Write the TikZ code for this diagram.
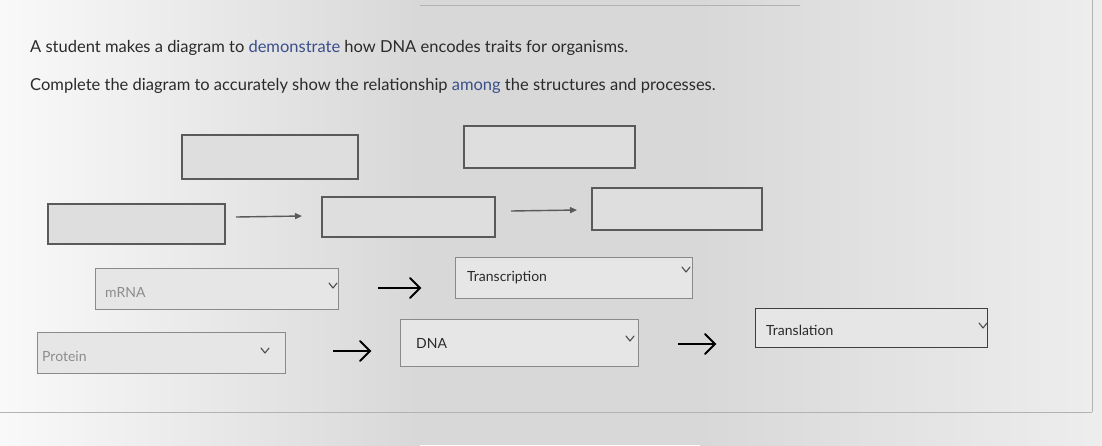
\documentclass[tikz,border=0pt]{standalone}
\usepackage{fontspec}
\setmainfont{Lato}
\usetikzlibrary{arrows.meta}
\definecolor{bg}{HTML}{D8D8D8}
\definecolor{qblue}{HTML}{3A4F8A}
\definecolor{qtext}{HTML}{2A2A2A}
\definecolor{boxline}{HTML}{5A5A5A}
\definecolor{ddline}{HTML}{8A8A8A}
\tikzset{
  blank/.style={draw=boxline, line width=1.6pt, fill=bg!85!white, inner sep=0pt, anchor=north west},
  dd/.style={draw=ddline, line width=0.9pt, fill=bg!65!white, inner sep=0pt, anchor=north west},
  ddtext/.style={anchor=west, font=\fontsize{14}{16}\selectfont, text=qtext, inner sep=0pt},
  thinarr/.style={draw=boxline, line width=1.4pt, -{Triangle[length=7pt,width=6pt]}},
  bigshaft/.style={draw=black, line width=2pt},
  bighead/.style={draw=black, line width=2pt, line cap=round, line join=miter},
  chev/.style={draw=black!70, line width=1.1pt, line cap=round, line join=round},
  qline/.style={anchor=west, font=\fontsize{16.5}{19}\selectfont, text=qtext, inner sep=0pt}
}
\begin{document}
\begin{tikzpicture}[x=1pt,y=-1pt]
\useasboundingbox (0,0) rectangle (1102,445);
\fill[bg] (0,0) rectangle (1102,445);
\shade[left color=white!85!bg, right color=bg] (0,0) rectangle (420,445);
\shade[left color=bg, right color=white!55!bg] (700,0) rectangle (1102,445);
\draw[black!30, line width=1pt] (0,412) -- (1092,412);
\draw[black!30, line width=1pt] (1092,0) -- (1092,412);
\draw[black!30, line width=1pt] (420,5) -- (800,5);
% question text
\node[qline] (q1) at (30,48) {A student makes a diagram to \textcolor{qblue}{demonstrate} how DNA encodes traits for organisms.};
\node[qline] (q2) at (30,86) {Complete the diagram to accurately show the relationship \textcolor{qblue}{among} the structures and processes.};
% blank boxes
\node[blank, minimum width=176pt, minimum height=44pt] (ba) at (181,134) {};
\node[blank, minimum width=171pt, minimum height=42pt] (bb) at (463,125) {};
\node[blank, minimum width=177pt, minimum height=40pt] (bc) at (47,203) {};
\node[blank, minimum width=173pt, minimum height=40pt] (bd) at (321,196) {};
\node[blank, minimum width=170pt, minimum height=42pt] (be) at (591,187) {};
\coordinate (a1s) at (236,217); \coordinate (a1e) at (302,216);
\coordinate (a2s) at (511,211); \coordinate (a2e) at (577,210);
\draw[thinarr] (a1s) -- (a1e);
\draw[thinarr] (a2s) -- (a2e);
% dropdowns
\node[dd, minimum width=243pt, minimum height=41pt] (dm) at (95,268) {};
\node[ddtext, text=black!45] (tm) at (105,292) {mRNA};
\draw[chev] (329,283) -- (333,288) -- (337,283);
\node[dd, minimum width=237pt, minimum height=41pt] (dt) at (455,257) {};
\node[ddtext] (tt) at (467,278) {Transcription};
\draw[chev] (682,267) -- (686,272) -- (690,267);
\node[dd, minimum width=248pt, minimum height=41pt] (dp) at (37,332) {};
\node[ddtext, text=black!45] (tp) at (42,356) {Protein};
\draw[chev] (261,348) -- (265,353) -- (269,348);
\node[dd, minimum width=238pt, minimum height=47pt] (dn) at (400,319) {};
\node[ddtext] (tn) at (416,343) {DNA};
\draw[chev] (626,336) -- (630,341) -- (634,336);
\node[dd, draw=black!75, line width=1.3pt, minimum width=232pt, minimum height=39pt] (dl) at (755,308) {};
\node[ddtext] (tl) at (766,330) {Translation};
\draw[chev] (979,323) -- (983,328) -- (987,323);
% big arrows
\coordinate (b1s) at (378,288); \coordinate (b1e) at (420,288);
\coordinate (b2s) at (333,351); \coordinate (b2e) at (370,351);
\coordinate (b3s) at (678,344); \coordinate (b3e) at (715,344);
\foreach \s/\e in {b1s/b1e, b2s/b2e, b3s/b3e}{
  \draw[bigshaft] (\s) -- (\e);
  \draw[bighead] ([shift={(-10,-10)}]\e) -- (\e) -- ([shift={(-10,10)}]\e);
}
\end{tikzpicture}
\end{document}
